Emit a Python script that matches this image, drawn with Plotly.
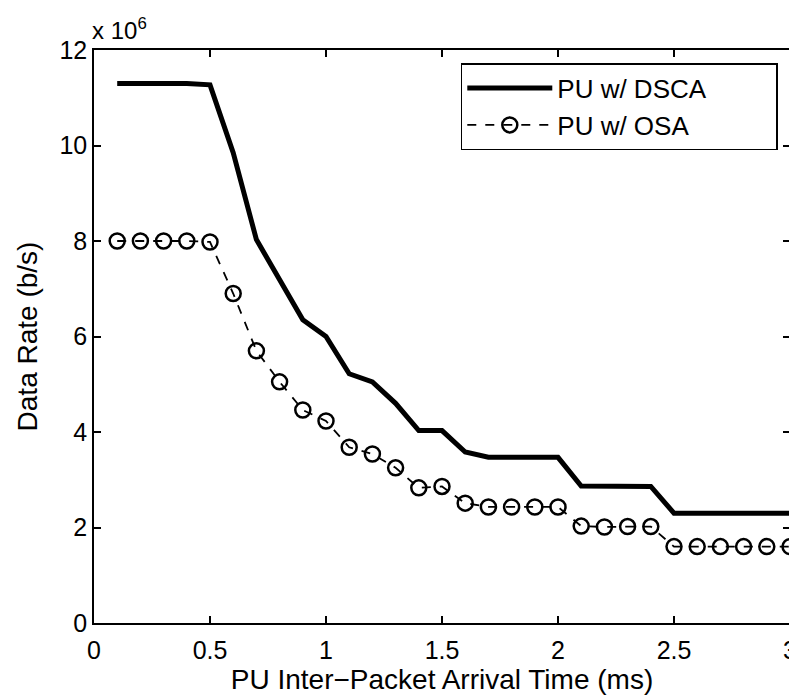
import plotly.graph_objects as go

x_ms = [0.1, 0.2, 0.3, 0.4, 0.5, 0.6, 0.7, 0.8, 0.9, 1.0,
        1.1, 1.2, 1.3, 1.4, 1.5, 1.6, 1.7, 1.8, 1.9, 2.0,
        2.1, 2.2, 2.3, 2.4, 2.5, 2.6, 2.7, 2.8, 2.9, 3.0]
# data rate in units of 1e6 b/s
dsca = [11.3, 11.3, 11.3, 11.3, 11.27, 9.85, 8.03, 7.2, 6.35, 6.0,
        5.22, 5.05, 4.6, 4.03, 4.03, 3.58, 3.47, 3.47, 3.47, 3.47,
        2.87, 2.87, 2.88, 2.86, 2.3, 2.3, 2.3, 2.3, 2.3, 2.3]
osa = [8.0, 8.0, 8.0, 8.0, 7.98, 6.9, 5.7, 5.05, 4.46, 4.23,
       3.68, 3.54, 3.25, 2.83, 2.86, 2.51, 2.43, 2.43, 2.43, 2.43,
       2.03, 2.01, 2.02, 2.02, 1.6, 1.6, 1.6, 1.6, 1.6, 1.6]
series_names = ["PU w/ DSCA", "PU w/ OSA"]

font = "Liberation Sans, Arial, Helvetica, sans-serif"
pad = "\u00a0" * 9

fig = go.Figure()
fig.add_trace(go.Scatter(x=x_ms, y=dsca, mode="lines", name=series_names[0] + pad,
                         line=dict(color="black", width=5)))
fig.add_trace(go.Scatter(x=x_ms, y=osa, mode="lines+markers", name=series_names[1] + pad,
                         line=dict(color="black", width=1.8, dash="dash"),
                         marker=dict(symbol="circle-open", size=15, color="black",
                                     line=dict(width=2.5, color="black"))))

axis_common = dict(showline=True, linecolor="black", linewidth=1.5, mirror="ticks",
                   ticks="inside", ticklen=7, tickwidth=1.5, tickcolor="black",
                   showgrid=False, zeroline=False,
                   tickfont=dict(family=font, size=25, color="black"))

fig.update_xaxes(range=[0, 3], tickvals=[0, 0.5, 1, 1.5, 2, 2.5, 3],
                 ticktext=["0", "0.5", "1", "1.5", "2", "2.5", "3"],
                 ticklabelstandoff=4, automargin="height",
                 title=dict(text="PU Inter−Packet Arrival Time (ms)", standoff=2,
                            font=dict(family=font, size=28, color="black")),
                 **axis_common)
fig.update_yaxes(range=[0, 12], tickvals=[0, 2, 4, 6, 8, 10, 12],
                 automargin="width",
                 title=dict(text="Data Rate (b/s)", standoff=14,
                            font=dict(family=font, size=28, color="black")),
                 **axis_common)

fig.add_annotation(x=0, y=1, xref="paper", yref="paper", xanchor="left", yanchor="bottom",
                   text="x 10<sup>6</sup>", showarrow=False, yshift=4, xshift=-4,
                   font=dict(family=font, size=24, color="black"))

fig.update_layout(width=789, height=688, paper_bgcolor="white", plot_bgcolor="white",
                  margin=dict(l=86, r=5, t=42, b=73),
                  legend=dict(x=0.527, y=0.977, xanchor="left", yanchor="top",
                              bordercolor="black", borderwidth=1.5, bgcolor="white",
                              font=dict(family=font, size=26, color="black"),
                              tracegroupgap=0, itemwidth=85),
                  showlegend=True)

fig.write_html("out.html")
